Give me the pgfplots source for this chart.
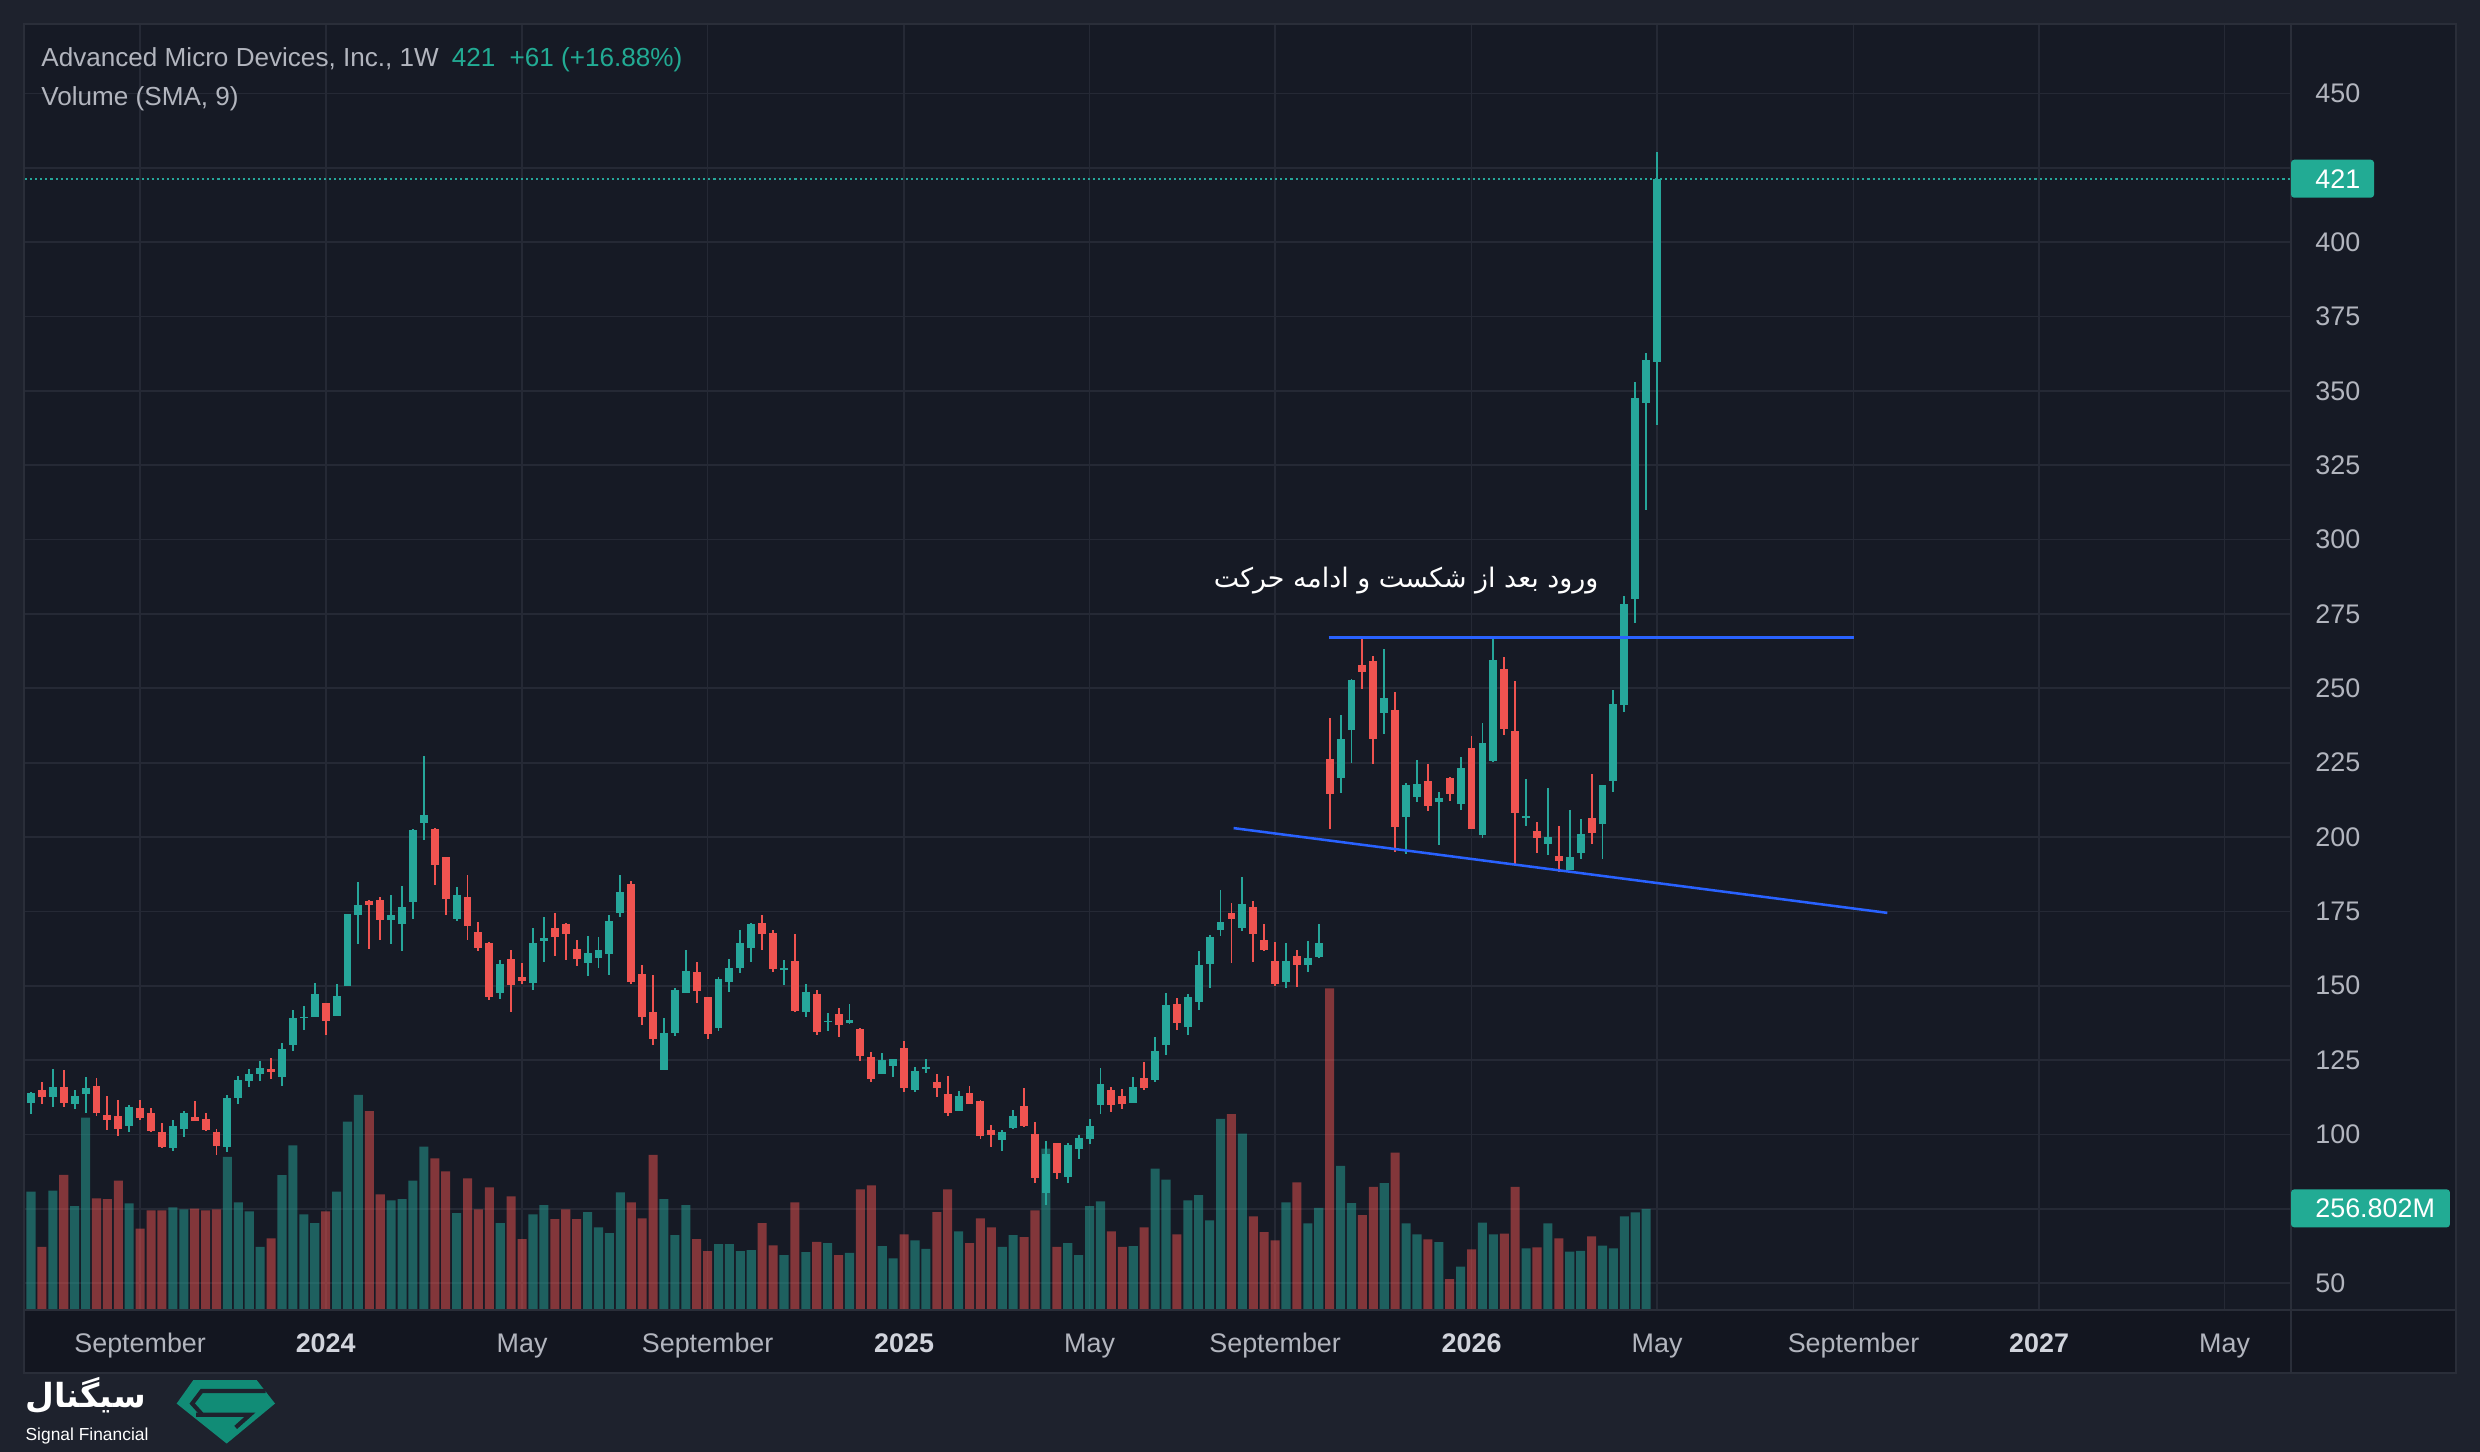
\documentclass[border=0pt]{standalone}
\usepackage{pgfplots}
\pgfplotsset{compat=1.18}
\usepackage{pgfplotstable}
\usepackage{fontspec}
\setmainfont{Liberation Sans}
\newfontfamily\arabicfont[Script=Arabic]{DejaVu Sans}
\TeXXeTstate=1
\definecolor{bgout}{HTML}{1E222D}
\definecolor{plotbg}{HTML}{161A25}
\definecolor{bandbg}{HTML}{131620}
\definecolor{framec}{HTML}{2A2E39}
\definecolor{gridc}{HTML}{252935}
\definecolor{upcol}{HTML}{26A69A}
\definecolor{dncol}{HTML}{EF5350}
\definecolor{txtgray}{HTML}{B2B5BE}
\definecolor{txtyear}{HTML}{D1D4DC}
\definecolor{lineblue}{HTML}{2962FF}
\definecolor{boxteal}{HTML}{22AB94}
\definecolor{logoteal}{HTML}{118C76}

\pgfplotstableread{
x o h l c v
1 110.7 114.4 107.0 113.8 301
3 112.7 122.0 109.3 115.9 304
5 110.3 114.9 108.6 112.9 264
6 113.6 119.3 107.3 115.5 490
10 102.9 109.8 100.9 109.2 271
14 95.5 104.9 94.5 102.7 261
15 101.9 107.8 99.3 107.2 256
19 95.9 113.2 94.2 112.2 390
20 112.3 119.7 110.3 118.3 274
21 118.0 122.0 116.0 120.3 251
22 120.3 124.8 118.0 122.3 160
24 119.4 130.7 116.3 128.7 343
25 130.0 141.8 128.1 139.1 419
26 139.1 143.2 135.1 139.6 243
27 139.6 150.9 139.6 147.1 221
29 139.9 150.5 139.9 146.5 301
30 150.0 174.1 150.0 174.1 480
31 173.9 184.8 164.1 177.1 548
34 172.0 180.5 164.1 173.8 279
35 170.8 183.5 161.7 176.5 282
36 178.1 202.6 172.4 202.4 329
37 204.7 227.2 199.0 207.3 416
40 172.4 183.2 171.8 180.5 246
44 147.5 158.5 145.5 157.2 221
47 150.9 169.4 148.5 164.3 243
48 165.2 173.0 158.0 165.9 267
52 157.6 166.7 153.2 161.0 249
53 159.3 166.3 156.0 161.9 210
54 160.7 173.8 153.6 171.8 195
55 174.4 187.2 173.0 181.5 299
59 121.8 139.1 121.8 134.1 282
60 134.1 149.3 133.1 148.5 190
61 147.5 161.9 147.5 155.0 267
64 135.8 152.9 134.8 152.2 167
65 151.2 159.0 147.9 156.0 167
66 156.0 168.7 154.2 164.3 149
67 162.7 171.0 158.0 170.8 152
70 155.2 158.6 150.2 156.0 139
72 141.2 150.5 139.6 147.9 147
74 137.7 140.8 134.8 138.3 170
76 137.4 143.8 137.2 138.4 145
79 120.4 127.4 120.4 125.0 162
80 123.1 125.4 119.4 125.4 131
82 115.0 122.6 114.3 121.3 177
83 122.1 125.4 120.8 122.6 155
86 107.8 114.6 107.8 112.9 200
90 98.3 101.5 94.5 100.7 160
91 102.1 108.2 101.9 106.2 190
94 80.3 97.8 76.4 93.4 411
96 85.7 97.1 83.7 96.4 170
97 95.1 99.8 91.8 98.8 139
98 98.5 105.1 96.9 102.7 264
99 110.0 122.3 106.8 116.9 276
102 110.6 119.3 110.6 115.9 162
104 118.3 132.7 117.5 128.0 360
105 130.0 147.5 126.6 143.5 332
107 136.1 147.1 133.3 146.1 279
108 144.5 161.7 141.8 157.0 292
109 157.3 167.0 149.3 166.3 228
110 168.7 182.1 166.7 171.4 487
112 169.4 186.6 168.5 177.5 449
116 151.2 164.3 149.3 158.3 274
118 157.0 165.0 154.6 159.3 220
119 159.6 170.8 159.2 164.3 260
121 219.9 241.0 214.8 232.8 367
122 236.1 253.1 225.0 252.8 272
125 241.8 263.1 234.7 246.7 323
127 206.7 218.0 194.4 217.4 220
128 213.5 225.9 211.8 217.7 192
130 211.8 215.1 197.3 213.1 172
132 211.2 226.8 209.2 223.1 110
134 200.7 238.2 199.8 231.6 222
135 225.6 266.8 225.3 259.4 192
138 206.4 219.4 203.8 207.2 156
140 197.8 216.5 194.1 200.0 220
142 189.0 209.1 189.0 193.2 148
143 194.7 206.0 192.7 200.9 150
145 204.3 217.4 192.7 217.4 163
146 218.9 249.4 215.2 244.7 156
147 244.4 281.0 242.1 278.3 238
148 279.9 352.9 272.0 347.5 248
149 346.0 362.6 309.9 360.3 257
150 359.8 430.3 338.6 421.2 nan
}\upData

\pgfplotstableread{
x o h l c v
0 115.0 118.8 109.5 111.0 282
2 114.9 117.5 110.3 112.7 160
4 115.9 121.6 109.3 110.7 344
7 116.3 118.9 106.3 107.3 284
8 106.5 112.9 101.6 105.0 282
9 106.2 111.6 99.5 101.9 329
11 108.8 111.6 105.0 105.6 207
12 107.2 108.8 100.8 101.2 253
13 100.7 103.9 95.4 95.9 253
16 105.8 111.2 104.6 104.6 258
17 105.1 107.2 101.2 101.6 253
18 100.7 102.0 93.2 96.1 256
23 122.0 125.6 118.7 121.0 182
28 144.2 144.2 133.5 138.2 251
32 178.5 178.7 162.4 177.1 507
33 178.7 179.9 165.4 172.0 294
38 202.6 203.2 183.8 190.5 386
39 193.3 193.3 173.8 179.1 353
41 179.9 187.2 165.3 170.0 335
42 168.0 171.4 161.7 162.7 256
43 164.3 164.7 145.1 146.1 312
45 159.0 161.9 141.2 150.2 289
46 152.9 157.6 150.5 151.5 180
49 169.4 174.4 160.0 166.4 231
50 170.8 171.0 158.6 167.4 256
51 162.3 165.3 156.6 159.0 231
56 184.2 185.2 150.5 151.2 274
57 153.9 157.0 136.8 139.6 233
58 141.2 153.6 130.0 132.1 395
62 154.6 158.0 144.2 148.3 180
63 146.1 146.1 132.1 133.7 149
68 171.0 173.8 161.9 167.4 221
69 167.7 168.7 154.6 155.6 164
71 158.3 167.4 141.2 141.4 274
73 147.1 148.5 133.5 134.5 173
75 140.4 142.5 132.7 136.8 139
77 135.4 135.8 124.8 126.5 307
78 126.0 127.7 117.7 118.8 317
81 129.0 131.3 114.3 115.7 192
84 117.5 120.3 112.6 115.7 249
85 113.6 119.7 106.2 107.2 307
87 113.9 116.3 110.2 110.2 170
88 111.2 111.6 98.5 99.5 233
89 101.5 103.1 95.8 99.9 210
92 109.6 115.5 102.5 102.9 185
93 100.1 104.1 83.7 85.4 253
95 97.1 97.1 85.1 87.1 160
100 114.9 115.9 107.6 110.0 200
101 112.9 115.2 108.6 110.2 160
103 118.9 124.3 114.9 115.5 210
106 143.8 145.9 135.1 137.4 192
111 174.4 177.7 157.6 172.4 499
113 176.5 178.5 158.0 167.4 238
114 165.3 170.8 161.7 161.9 198
115 158.3 164.7 149.9 150.5 177
117 160.0 161.9 149.6 157.0 325
120 226.2 240.0 202.7 214.6 820
123 257.7 266.8 249.8 255.5 241
124 259.1 260.8 224.7 233.0 313
126 242.6 248.7 195.0 203.5 401
129 218.8 224.5 208.8 210.5 179
131 219.7 220.3 212.2 214.6 78
133 229.9 233.9 202.7 202.7 154
136 256.5 260.5 234.4 236.4 194
137 235.6 252.5 190.5 208.1 313
139 202.0 205.0 194.7 199.8 159
141 193.5 203.7 188.4 191.9 182
144 206.3 221.1 197.8 201.3 187
}\dnData

\pgfplotsset{
  chartbox/.style={at={(15pt,90pt)}, anchor=south west, scale only axis,
    width=1433.5pt, height=813pt, xmin=0.3333, xmax=208.09},
}

\begin{document}
\begin{tikzpicture}[x=1pt,y=1pt]
% backgrounds
\fill[bgout] (0,0) rectangle (1568,918);
\fill[plotbg] (15,50) rectangle (1553,903);
\fill[bandbg] (15,50) rectangle (1553,90);

% grid axis
\begin{axis}[chartbox, ymin=41.12, ymax=473.45,
  xtick={11,28,46,63,81,98,115,133,150,168,185,202},
  ytick={50,75,...,450}, xticklabels={}, yticklabels={},
  xmajorgrids, ymajorgrids,
  major grid style={draw=gridc, line width=1.1pt},
  axis line style={draw=none}, major tick length=0pt]
\end{axis}

% volume axis
\begin{axis}[chartbox, ymin=0, ymax=3283, hide axis]
\addplot[ybar, bar width=0.83, bar shift=0pt, fill=upcol, fill opacity=0.5, draw=none] table[x=x, y=v] {\upData};
\addplot[ybar, bar width=0.83, bar shift=0pt, fill=dncol, fill opacity=0.5, draw=none] table[x=x, y=v] {\dnData};
\end{axis}

% price axis
\begin{axis}[chartbox, ymin=41.12, ymax=473.45, hide axis]
\addplot[upcol, line width=1.1pt, dash pattern=on 1.3pt off 1.9pt] coordinates {(0,421.2) (209,421.2)};
% wicks
\addplot[draw=none, mark=none, forget plot, error bars/.cd, y dir=both, y explicit, error mark=none,
  error bar style={draw=upcol, line width=1.2pt}]
  table[x=x, y expr={(\thisrow{h}+\thisrow{l})/2}, y error expr={(\thisrow{h}-\thisrow{l})/2}] {\upData};
\addplot[draw=none, mark=none, forget plot, error bars/.cd, y dir=both, y explicit, error mark=none,
  error bar style={draw=dncol, line width=1.2pt}]
  table[x=x, y expr={(\thisrow{h}+\thisrow{l})/2}, y error expr={(\thisrow{h}-\thisrow{l})/2}] {\dnData};
% bodies
\addplot[draw=none, mark=none, forget plot, error bars/.cd, y dir=both, y explicit, error mark=none,
  error bar style={draw=upcol, line width=5pt}]
  table[x=x, y expr={(\thisrow{o}+\thisrow{c})/2}, y error expr={(\thisrow{c}-\thisrow{o})/2}] {\upData};
\addplot[draw=none, mark=none, forget plot, error bars/.cd, y dir=both, y explicit, error mark=none,
  error bar style={draw=dncol, line width=5pt}]
  table[x=x, y expr={(\thisrow{o}+\thisrow{c})/2}, y error expr={(\thisrow{o}-\thisrow{c})/2}] {\dnData};
% drawings
\addplot[lineblue, line width=1.6pt] coordinates {(119.9,267.1) (168.0,267.1)};
\addplot[lineblue, line width=1.6pt] coordinates {(111.2,203.0) (171.1,174.5)};
\node[text=white, inner sep=0pt, font=\arabicfont\fontsize{17}{20}\selectfont] at (axis cs:127.0,286.3) {\beginR ورود بعد از شکست و ادامه حرکت\endR};
\end{axis}

% frame lines
\draw[framec, line width=1.2pt] (15,50) rectangle (1553,903);
\draw[framec, line width=1.2pt] (15,90) -- (1553,90);
\draw[framec, line width=1.4pt] (1448.5,50) -- (1448.5,903);

% price labels (75 and 425 are covered by the value boxes)
\foreach \p in {50,100,125,150,175,200,225,250,275,300,325,350,375,400,450} {
  \node[anchor=west, inner sep=0pt, text=txtgray, font=\fontsize{17}{20}\selectfont] at (1463.7, {918-59.1-(450-\p)*1.8804}) {\p};
}
% last price box
\fill[boxteal, rounded corners=2pt] (1448.5,793) rectangle (1501,817);
\node[anchor=west, inner sep=0pt, text=white, font=\fontsize{17}{20}\selectfont] at (1463.7,805) {421};
% volume box
\fill[boxteal, rounded corners=2pt] (1448.5,142) rectangle (1549,166);
\node[anchor=west, inner sep=0pt, text=white, font=\fontsize{17}{20}\selectfont] at (1463.7,154) {256.802M};

% time labels
\foreach \i/\t in {11/September,46/May,63/September,98/May,115/September,150/May,168/September,202/May} {
  \node[anchor=base, inner sep=0pt, text=txtgray, font=\fontsize{17}{20}\selectfont] at ({12.7+6.9*\i},63) {\t};
}
\foreach \i/\t in {28/2024,81/2025,133/2026,185/2027} {
  \node[anchor=base, inner sep=0pt, text=txtyear, font=\bfseries\fontsize{17}{20}\selectfont] at ({12.7+6.9*\i},63) {\t};
}

% header
\node[anchor=base west, inner sep=0pt, text=txtgray, font=\fontsize{16.5}{20}\selectfont] at (26,875.8) {Advanced Micro Devices, Inc., 1W};
\node[anchor=base west, inner sep=0pt, text=boxteal, font=\fontsize{16.5}{20}\selectfont] at (285.5,875.8) {421};
\node[anchor=base west, inner sep=0pt, text=boxteal, font=\fontsize{16.5}{20}\selectfont] at (322,875.8) {+61 (+16.88\%)};
\node[anchor=base west, inner sep=0pt, text=txtgray, font=\fontsize{16.5}{20}\selectfont] at (26,851.6) {Volume (SMA, 9)};

% logo
\node[anchor=base west, inner sep=0pt, text=white, font=\arabicfont\bfseries\fontsize{21}{24}\selectfont] at (16,28) {\beginR سیگنال\endR};
\node[anchor=base west, inner sep=0pt, text=white, font=\fontsize{11}{13}\selectfont] at (16,7) {Signal Financial};
\fill[logoteal] (122.2,45.4) -- (162.3,45.4) -- (173.9,30.6) -- (143.3,5.3) -- (111.7,30.6) -- cycle;
\draw[bgout, line width=2.6pt] (168,38.5) -- (127.5,38.5) -- (121.5,30.6) -- (127.5,24);
\draw[bgout, line width=2.6pt] (124,23.5) -- (158,23.5) -- (149,15.5);
\end{tikzpicture}
\end{document}
